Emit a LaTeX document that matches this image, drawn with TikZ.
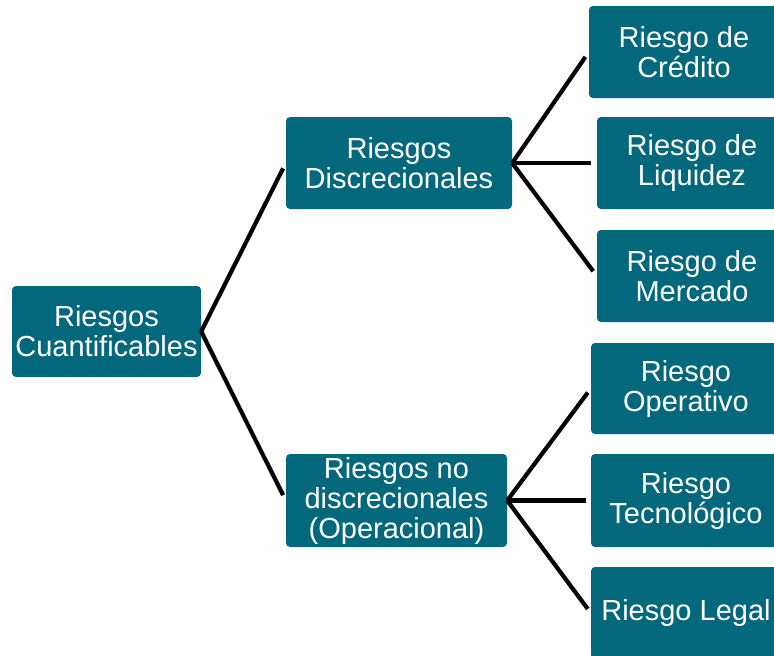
\documentclass[tikz,border=0pt]{standalone}
\usepackage{fontspec}
\setmainfont{Liberation Sans}
\definecolor{petrol}{RGB}{3,104,124}
\begin{document}
\begin{tikzpicture}[x=1pt,y=-1pt,
                caja/.style={fill=petrol,rounded corners=4pt,text=white,align=center,inner sep=0pt,
                    minimum width=190pt,minimum height=92pt,font=\fontsize{29}{30}\selectfont},
                rama/.style={line width=4.2pt,black}]
                \clip (0,0) rectangle (774,656);

                \node[caja,minimum width=189pt,minimum height=91pt] (root) at (106.5,331.5) {Riesgos\\Cuantificables};

                \node[caja,minimum width=226pt] (disc) at (399,163) {Riesgos\\Discrecionales};
                \node[caja,minimum width=221pt,minimum height=93pt] (nodisc) at (396.5,500.5) {Riesgos no\\discrecionales\\(Operacional)};

                \node[caja] (cred) at (684,52) {Riesgo de\\Crédito};
                \node[caja] (liq) at (692,163) {Riesgo de\\Liquidez};
                \node[caja] (merc) at (692,276) {Riesgo de\\Mercado};
                \node[caja,minimum height=91pt] (oper) at (686,388.5) {Riesgo\\Operativo};
                \node[caja,minimum height=93pt] (tecn) at (686,500.5) {Riesgo\\Tecnológico};
                \node[caja] (legal) at (686,613) {Riesgo Legal};

                \draw[rama,shorten >=6pt] (root.east) -- (disc.west);
                \draw[rama,shorten >=6pt] (root.east) -- (nodisc.west);

                \draw[rama,shorten >=6pt] (disc.east) -- (cred.west);
                \draw[rama,shorten >=6pt] (disc.east) -- (liq.west);
                \draw[rama,shorten >=6pt] (disc.east) -- (merc.west);

                \draw[rama,shorten >=5pt] (nodisc.east) -- (oper.west);
                \draw[rama,shorten >=5pt] (nodisc.east) -- (tecn.west);
                \draw[rama,shorten >=5pt] (nodisc.east) -- (legal.west);
            \end{tikzpicture}
\end{document}
